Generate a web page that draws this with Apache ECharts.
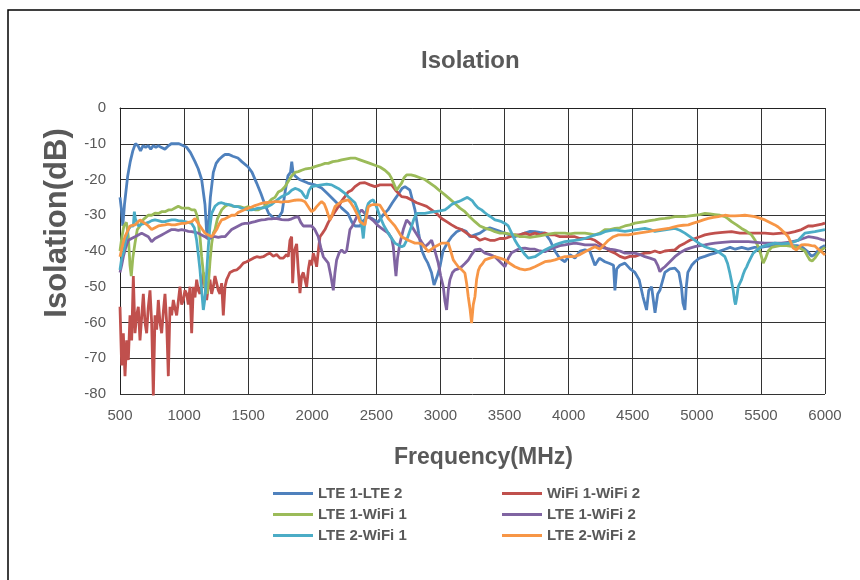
<!DOCTYPE html>
<html>
<head>
<meta charset="utf-8">
<script src="https://cdn.jsdelivr.net/npm/echarts@6/dist/echarts.min.js"></script>
<style>html,body{margin:0;padding:0;background:#fff}#c{width:860px;height:580px}</style>
</head>
<body>
<div id="c"></div>
<script>
// Data: [frequency MHz, isolation dB]
const lte1Lte2 = [[500,-25],[510,-28],[522,-33],[535,-27],[560,-19],[580,-15],[600,-12],[620,-10],[640,-10.5],[660,-12],[680,-10.5],[700,-11],[720,-10.5],[740,-11.5],[760,-10.5],[780,-11],[800,-10.5],[820,-11],[850,-11.5],[880,-10.5],[900,-10],[930,-10],[960,-10],[990,-10.5],[1020,-11],[1050,-12.5],[1085,-15],[1110,-17],[1137,-20],[1163,-27],[1178,-36],[1190,-33],[1205,-25],[1228,-18],[1250,-15.5],[1270,-14.5],[1300,-13.5],[1320,-13],[1350,-13],[1380,-13.5],[1420,-14],[1450,-15],[1500,-16.5],[1530,-18],[1566,-21],[1600,-24],[1630,-27],[1660,-29.5],[1690,-30.5],[1710,-31],[1740,-30.5],[1765,-29],[1790,-23],[1810,-19],[1830,-18],[1840,-15],[1850,-18],[1865,-19],[1900,-20],[1966,-21],[2020,-21.5],[2073,-22.4],[2120,-24],[2177,-26],[2230,-28],[2278,-29.5],[2310,-32],[2333,-33],[2372,-33],[2400,-31.5],[2434,-30.4],[2470,-31],[2512,-32],[2550,-30],[2590,-28.5],[2625,-26.5],[2658,-24.8],[2700,-22.5],[2723,-22],[2762,-23],[2801,-28.5],[2830,-35],[2853,-39.7],[2880,-42],[2902,-43.4],[2930,-46],[2950,-49.5],[2975,-47],[2996,-44.4],[3020,-40],[3050,-38],[3087,-36],[3126,-34.6],[3165,-34],[3200,-34.5],[3230,-36],[3269,-35.5],[3308,-35],[3347,-34],[3385,-33.5],[3425,-34],[3465,-34.5],[3503,-35],[3540,-35.5],[3581,-36],[3620,-35.5],[3659,-35],[3700,-34.5],[3737,-34.6],[3775,-34.8],[3815,-35],[3855,-37],[3893,-40],[3930,-42],[3971,-43],[4010,-41],[4049,-42],[4090,-40],[4127,-39.7],[4165,-40],[4205,-44],[4240,-42],[4283,-43],[4320,-43.5],[4350,-44],[4361,-51],[4375,-45],[4400,-44],[4439,-43.4],[4480,-45],[4517,-46],[4550,-48],[4580,-52.8],[4608,-56.5],[4625,-51],[4647,-50],[4674,-57.3],[4695,-52],[4712,-51],[4751,-46],[4790,-45],[4829,-44.8],[4860,-46],[4880,-50],[4892,-54.6],[4907,-56.5],[4918,-50],[4930,-46],[4960,-44],[4985,-43],[5020,-42],[5063,-41.5],[5100,-41],[5141,-40.6],[5180,-40],[5220,-39.5],[5260,-39],[5300,-39.5],[5350,-39],[5400,-39.5],[5450,-39],[5500,-39],[5531,-38.8],[5600,-38.5],[5661,-38],[5720,-38.5],[5780,-38.5],[5817,-38.8],[5860,-40],[5895,-41.5],[5920,-41],[5944,-40],[5970,-39],[6000,-38.5]];

const wifi1Wifi2 = [[500,-55.6],[513,-72],[526,-63],[539,-75],[552,-65],[565,-70.5],[578,-58],[591,-65],[604,-47],[617,-63],[630,-58],[643,-55.6],[656,-65],[670,-58],[682,-52],[695,-60],[708,-63],[720,-56],[734,-51],[747,-60],[760,-80.7],[773,-58],[786,-62],[799,-53.7],[812,-60],[825,-63],[838,-57],[851,-52],[864,-60],[877,-75],[890,-55.6],[903,-58],[916,-53.7],[929,-56],[942,-58],[955,-54],[968,-50],[981,-55],[994,-53.7],[1007,-51],[1020,-52],[1033,-55],[1046,-50],[1059,-63],[1072,-50],[1085,-53],[1098,-48],[1111,-51],[1124,-52],[1137,-49],[1150,-46],[1163,-50],[1176,-53.7],[1189,-50],[1202,-48],[1215,-52],[1228,-50],[1241,-47],[1254,-47],[1267,-51],[1280,-52],[1293,-49],[1306,-58],[1319,-50],[1332,-48],[1345,-47],[1358,-46],[1384,-45.5],[1410,-45.3],[1436,-44.5],[1462,-43.4],[1488,-43],[1514,-42.5],[1540,-42],[1566,-41.6],[1592,-41.8],[1618,-41.6],[1644,-41],[1670,-40.6],[1696,-41.5],[1722,-41],[1748,-42],[1774,-42],[1800,-41],[1813,-41.6],[1826,-37],[1839,-36],[1847,-49],[1860,-40],[1878,-38],[1890,-45],[1904,-51.8],[1917,-47],[1930,-46],[1943,-48],[1956,-50],[1970,-45],[1982,-42.5],[1995,-44],[2008,-40.6],[2020,-42],[2034,-44.4],[2047,-40],[2060,-36],[2080,-35],[2099,-34],[2125,-32],[2151,-30.4],[2177,-29],[2203,-27.6],[2230,-26],[2255,-24.8],[2280,-23.5],[2307,-23],[2333,-22],[2372,-21],[2411,-20.9],[2450,-21.5],[2489,-22],[2528,-21.5],[2567,-21.5],[2619,-21.5],[2650,-23],[2697,-24.8],[2736,-25],[2775,-25.7],[2814,-26.5],[2853,-27],[2892,-27.5],[2931,-28.5],[2970,-29.5],[3009,-30.9],[3048,-31.8],[3087,-32.7],[3126,-33.5],[3165,-34],[3204,-35],[3243,-36],[3269,-36],[3308,-37],[3347,-36.5],[3386,-37],[3425,-37],[3464,-36.5],[3503,-36.5],[3542,-36],[3581,-35.5],[3620,-35.5],[3659,-35],[3698,-35.5],[3737,-35],[3776,-35.5],[3815,-35],[3854,-35.5],[3893,-35.5],[3932,-36],[3971,-36],[4010,-36],[4049,-36],[4088,-36.5],[4127,-36.5],[4166,-36.5],[4205,-37],[4244,-38],[4283,-39],[4322,-40],[4361,-40.6],[4400,-41.5],[4439,-42],[4478,-41.5],[4517,-41.5],[4556,-41],[4595,-40.6],[4634,-40.5],[4673,-40],[4712,-40.5],[4751,-40],[4790,-39.8],[4829,-39.7],[4868,-38.5],[4907,-37.8],[4946,-37],[4985,-36.5],[5024,-36],[5063,-35.5],[5102,-35.2],[5141,-35],[5200,-34.8],[5271,-34.6],[5336,-35],[5401,-35],[5466,-35],[5531,-35],[5596,-35.2],[5661,-35],[5713,-35],[5765,-34.6],[5817,-34],[5869,-33],[5908,-33],[5947,-32.7],[5975,-32.5],[6000,-32.2]];

const lte1Wifi1 = [[500,-40],[515,-36],[530,-33],[550,-32],[565,-36],[578,-44],[588,-47],[600,-42],[617,-37.8],[635,-34],[656,-33],[675,-31.5],[695,-30.8],[720,-30],[747,-30],[773,-29.4],[800,-29.5],[825,-29],[851,-29],[878,-28.5],[903,-28.5],[929,-28],[955,-27.5],[981,-28],[1007,-28],[1033,-28],[1059,-28.5],[1085,-28.5],[1100,-30],[1111,-32],[1124,-36],[1137,-41.6],[1150,-46],[1163,-50],[1180,-52],[1192,-48],[1202,-43],[1215,-38],[1228,-35],[1241,-34],[1260,-31],[1293,-28.5],[1320,-27.5],[1345,-27],[1380,-27.5],[1410,-27.5],[1436,-27.6],[1470,-28],[1501,-27.6],[1527,-28],[1553,-28.5],[1580,-28.5],[1605,-28],[1630,-27.5],[1657,-26.5],[1683,-25.5],[1709,-25],[1735,-23.5],[1761,-23],[1787,-22],[1813,-20.5],[1839,-19],[1865,-18],[1891,-17.8],[1917,-17.4],[1950,-17],[1990,-16.8],[2021,-16.4],[2060,-16],[2100,-15.5],[2125,-15.5],[2160,-15],[2200,-14.8],[2229,-14.5],[2270,-14.2],[2300,-14],[2333,-14],[2372,-14.5],[2411,-15],[2450,-15.5],[2489,-16],[2528,-16.5],[2567,-17.4],[2600,-18.5],[2619,-19.7],[2640,-21.5],[2658,-23],[2677,-22],[2697,-21],[2716,-19.5],[2736,-18.7],[2770,-18.7],[2801,-19],[2840,-19.5],[2879,-20],[2918,-21],[2957,-22],[2996,-23.2],[3035,-24.3],[3074,-25.5],[3113,-26.7],[3152,-28],[3191,-29],[3230,-30.5],[3269,-31.8],[3308,-33],[3347,-33.6],[3386,-34],[3425,-34.6],[3464,-35],[3503,-35],[3542,-35.3],[3581,-35.5],[3620,-36],[3659,-36],[3698,-36.2],[3737,-36],[3776,-35.8],[3815,-35.5],[3854,-35.2],[3893,-35],[3932,-35],[3971,-35],[4010,-35.2],[4049,-35],[4088,-35],[4127,-35],[4166,-35.2],[4205,-35.5],[4244,-35],[4283,-34],[4322,-34],[4361,-33.7],[4400,-33.5],[4439,-33],[4478,-32.7],[4517,-32.2],[4556,-32],[4595,-31.8],[4634,-31.5],[4673,-31.3],[4712,-31],[4751,-30.9],[4790,-30.7],[4829,-30.4],[4868,-30.4],[4907,-30.4],[4946,-30.2],[4985,-30],[5024,-29.8],[5063,-29.5],[5102,-29.6],[5141,-29.8],[5180,-30],[5219,-30.4],[5245,-31],[5271,-31.8],[5310,-32.7],[5349,-33.7],[5388,-34.5],[5427,-35.5],[5455,-37],[5479,-38.8],[5500,-41],[5518,-43.4],[5537,-42],[5557,-40],[5583,-39],[5609,-38.8],[5648,-38.5],[5687,-38.4],[5726,-38.6],[5765,-38.8],[5804,-39.2],[5843,-40],[5865,-41.5],[5882,-42.5],[5900,-42.8],[5921,-42],[5950,-40.5],[5973,-39.7],[6000,-39]];

const lte1Wifi2 = [[500,-46],[513,-44],[526,-41.6],[545,-39],[565,-37],[590,-36.5],[617,-36],[643,-35.5],[669,-35],[695,-35.5],[721,-36],[747,-37.4],[773,-36.5],[799,-36],[825,-35.5],[851,-35],[877,-34.5],[903,-34],[929,-34],[955,-34.2],[981,-34],[1007,-34.2],[1033,-34.5],[1059,-34.6],[1085,-34.8],[1111,-35],[1137,-35.5],[1163,-36],[1182,-36.5],[1202,-36.5],[1221,-36],[1241,-36],[1267,-36.2],[1293,-36],[1319,-36],[1345,-35],[1371,-34],[1397,-33.5],[1423,-33],[1449,-32.5],[1475,-32.3],[1501,-32.3],[1527,-32],[1553,-31.8],[1579,-31.5],[1605,-31.3],[1631,-31.2],[1657,-31],[1683,-31],[1709,-30.9],[1735,-31],[1761,-31.2],[1787,-31.3],[1813,-31.3],[1839,-31],[1865,-30.6],[1891,-30.4],[1910,-32],[1930,-33],[1960,-33],[1995,-33],[2020,-34],[2047,-36],[2066,-39],[2086,-41.6],[2105,-42.5],[2125,-43.4],[2145,-47],[2164,-51],[2177,-46],[2190,-42.5],[2210,-40.5],[2229,-39.7],[2250,-40.5],[2268,-40],[2281,-37],[2294,-34],[2313,-33],[2333,-31.5],[2360,-29.5],[2385,-28.5],[2410,-29.5],[2437,-30.4],[2476,-31.5],[2515,-33],[2554,-34],[2593,-35],[2620,-36.5],[2632,-38.8],[2645,-44],[2653,-47],[2665,-42],[2684,-37.8],[2710,-34],[2736,-31.3],[2755,-32],[2775,-33],[2800,-34.5],[2827,-36],[2853,-37.5],[2879,-38.8],[2905,-38],[2931,-37],[2957,-40],[2983,-43.4],[3002,-47],[3022,-50],[3035,-54],[3048,-56.5],[3061,-51],[3074,-48],[3094,-46],[3113,-45.3],[3139,-45],[3165,-44.4],[3191,-43.5],[3217,-42.5],[3243,-41],[3269,-39.7],[3308,-39.5],[3347,-40.6],[3386,-41],[3425,-41.6],[3464,-43],[3503,-44.4],[3530,-42],[3555,-40.5],[3581,-40],[3607,-39.5],[3633,-39.3],[3659,-39.2],[3698,-39.5],[3737,-39.5],[3776,-40],[3815,-40.2],[3854,-39.5],[3893,-39],[3932,-38.5],[3971,-38.3],[4010,-38],[4049,-37.8],[4088,-38],[4127,-38.3],[4166,-38.3],[4205,-38.3],[4244,-38.8],[4283,-39.2],[4322,-39.5],[4361,-39.7],[4400,-40],[4439,-40.6],[4478,-40.6],[4517,-40.6],[4556,-41],[4595,-41.6],[4634,-42],[4673,-42.5],[4695,-44],[4712,-45.8],[4730,-45],[4751,-44.4],[4790,-43],[4829,-41.6],[4868,-40.5],[4907,-39.7],[4946,-39.2],[4985,-38.8],[5024,-38.5],[5063,-38.3],[5102,-38],[5141,-37.8],[5200,-37.6],[5271,-37.4],[5336,-37.4],[5401,-37.4],[5466,-37.6],[5531,-37.8],[5596,-37.8],[5661,-37.8],[5726,-37.5],[5791,-37],[5830,-36.5],[5869,-36],[5908,-36.2],[5947,-36.5],[5975,-36.8],[6000,-37]];

const lte2Wifi1 = [[500,-45.3],[513,-42],[526,-40.6],[545,-37],[565,-34],[585,-33],[604,-33],[612,-29],[620,-31],[643,-33],[669,-32.5],[695,-32.3],[721,-32],[747,-31.5],[773,-31.3],[799,-31.5],[825,-31.8],[851,-31.8],[877,-31.5],[903,-31.3],[929,-31.3],[955,-31.5],[981,-31.6],[1007,-31.8],[1033,-32],[1059,-32.3],[1080,-33.5],[1098,-37],[1111,-41],[1124,-45.3],[1137,-51],[1150,-56.5],[1160,-54],[1168,-51],[1178,-45],[1189,-38.8],[1202,-33],[1215,-29.5],[1241,-27.5],[1267,-26.7],[1293,-26.5],[1319,-26.8],[1345,-27],[1371,-27.2],[1397,-27.6],[1423,-27.6],[1449,-28],[1475,-28.3],[1501,-28.5],[1527,-28.5],[1553,-28.3],[1579,-28],[1605,-28],[1631,-27.8],[1657,-27.5],[1683,-27],[1709,-26.2],[1735,-25.5],[1761,-24.8],[1787,-24.3],[1813,-23.9],[1839,-23],[1865,-22.5],[1891,-22.8],[1917,-23.4],[1936,-24.5],[1956,-25.3],[1975,-23],[1995,-22],[2034,-21.7],[2073,-21.5],[2112,-21.3],[2151,-21.5],[2177,-22],[2203,-22.5],[2229,-23.2],[2255,-23.9],[2281,-24.8],[2307,-25.7],[2333,-26.5],[2355,-28.5],[2372,-30.4],[2390,-34],[2398,-36.5],[2410,-32],[2425,-28],[2437,-26.7],[2456,-26],[2476,-25.7],[2500,-27.5],[2528,-30.4],[2560,-33],[2593,-35],[2620,-36.5],[2645,-37.8],[2671,-38.3],[2697,-38.8],[2716,-38.5],[2736,-37],[2755,-35],[2775,-33],[2794,-31],[2814,-29.5],[2846,-29.5],[2879,-29.5],[2918,-29.2],[2957,-29],[2996,-28.8],[3035,-28.5],[3061,-27.8],[3087,-27],[3113,-26.5],[3139,-26.2],[3165,-25.8],[3191,-25.3],[3210,-25],[3230,-25.5],[3250,-26],[3269,-27],[3295,-28],[3321,-28.5],[3347,-29.3],[3373,-30],[3399,-30.6],[3425,-31.3],[3451,-31.5],[3477,-31.8],[3503,-32.3],[3529,-33],[3555,-35],[3581,-37],[3607,-38.5],[3633,-39.7],[3659,-41],[3685,-42],[3711,-41.8],[3737,-41.6],[3776,-40.7],[3815,-39.7],[3854,-39],[3893,-38.3],[3932,-37.8],[3971,-37.4],[4010,-37.2],[4049,-37],[4088,-36.8],[4127,-36.5],[4166,-36],[4205,-35.5],[4244,-35.2],[4283,-34.6],[4322,-34.3],[4361,-34.1],[4400,-34.3],[4439,-34.5],[4478,-34.3],[4517,-34.1],[4556,-33.9],[4595,-33.7],[4634,-34],[4673,-34.5],[4712,-34.3],[4751,-34.1],[4790,-33.9],[4829,-33.7],[4868,-34.2],[4907,-35],[4946,-36],[4985,-37],[5024,-38],[5063,-38.8],[5102,-39.3],[5141,-39.7],[5180,-40.5],[5219,-41.6],[5240,-43.5],[5258,-46.2],[5271,-48.5],[5284,-51],[5295,-54],[5302,-55],[5312,-53],[5323,-50],[5336,-49],[5349,-48],[5362,-46.5],[5375,-45.3],[5388,-44.5],[5401,-43.4],[5420,-42],[5440,-40.6],[5470,-39.7],[5505,-38.8],[5557,-38.2],[5609,-37.8],[5661,-38],[5713,-37.8],[5752,-37.5],[5791,-37],[5817,-36],[5843,-35],[5882,-34.8],[5921,-34.6],[5960,-34.3],[6000,-34]];

const lte2Wifi2 = [[500,-41.6],[513,-39.5],[526,-37.5],[539,-36],[558,-34.5],[578,-33],[598,-32.8],[617,-32.7],[636,-32],[656,-31.3],[675,-31.8],[695,-32.3],[721,-33],[747,-34],[773,-33.5],[799,-33],[825,-32.8],[851,-32.7],[877,-32.5],[903,-32.7],[929,-32.7],[955,-32.5],[981,-32.3],[1007,-32.3],[1033,-32],[1059,-31.8],[1085,-30.9],[1105,-32],[1124,-33],[1143,-34],[1163,-35],[1189,-35.5],[1215,-36],[1235,-35],[1254,-34],[1273,-32.5],[1293,-31.3],[1319,-31],[1345,-30.5],[1371,-30],[1397,-30],[1423,-29.2],[1449,-28.8],[1475,-28.4],[1501,-28],[1527,-27.7],[1553,-27.3],[1579,-27],[1605,-26.7],[1631,-26.5],[1657,-26.4],[1683,-26.3],[1709,-26.2],[1735,-26.2],[1761,-26.3],[1787,-26.2],[1813,-26.2],[1839,-26],[1865,-25.8],[1891,-25.7],[1917,-25.8],[1943,-26.2],[1956,-26.7],[1975,-28],[1995,-29],[2015,-28.5],[2034,-27.6],[2054,-26.8],[2073,-26.2],[2093,-26.8],[2112,-28.5],[2125,-30],[2138,-31.3],[2158,-29.5],[2177,-27.6],[2203,-26.8],[2229,-26.2],[2255,-25.9],[2281,-25.7],[2300,-26.5],[2320,-27.6],[2340,-29],[2359,-30.4],[2372,-31.8],[2392,-32.3],[2411,-32.7],[2424,-30],[2437,-27.6],[2456,-27.2],[2476,-27],[2500,-27],[2528,-27.2],[2560,-29],[2593,-30.9],[2620,-32],[2645,-33],[2671,-34.5],[2697,-36],[2723,-36.5],[2749,-37],[2775,-37.4],[2801,-37.8],[2827,-37.8],[2853,-38],[2879,-39],[2905,-40.2],[2931,-39.5],[2957,-38.8],[2983,-38.3],[3009,-37.8],[3035,-37.8],[3061,-37.8],[3080,-40],[3100,-42.5],[3120,-43.5],[3139,-44.4],[3165,-45.2],[3191,-46.2],[3204,-49],[3217,-52.8],[3230,-56],[3243,-60.2],[3256,-55],[3269,-52.8],[3282,-48],[3295,-45.5],[3308,-44.4],[3328,-43.5],[3347,-42.5],[3386,-42],[3425,-41.6],[3464,-42],[3503,-42.5],[3542,-43.5],[3581,-44.4],[3620,-45],[3659,-45.3],[3698,-45],[3737,-44.4],[3776,-43.7],[3815,-43],[3854,-42.8],[3893,-42.5],[3932,-42],[3971,-41.6],[4010,-41.6],[4049,-41.5],[4088,-41],[4127,-40.2],[4166,-39.5],[4205,-38.8],[4244,-39.5],[4270,-38.5],[4310,-37],[4349,-36],[4388,-35.5],[4427,-35.5],[4466,-35.5],[4505,-35.2],[4544,-35],[4583,-34.8],[4622,-34.6],[4661,-34.3],[4700,-34.1],[4739,-33.9],[4778,-33.7],[4817,-33.3],[4856,-33],[4895,-32.8],[4934,-32.7],[4973,-32.2],[5012,-31.8],[5051,-31.3],[5090,-30.9],[5128,-30.6],[5167,-30.4],[5219,-30],[5258,-30.2],[5297,-30.2],[5336,-30.1],[5375,-30],[5414,-30.2],[5453,-30.4],[5492,-30.8],[5531,-31.3],[5570,-32],[5609,-32.7],[5635,-33.3],[5661,-34.1],[5687,-35],[5713,-36],[5732,-37.5],[5752,-39.2],[5778,-39.7],[5800,-38.8],[5817,-38.3],[5843,-38.2],[5869,-38.3],[5895,-38.5],[5921,-38.6],[5947,-39.5],[5973,-40.2],[6000,-41.1]];

const seriesNames = ['LTE 1-LTE 2','WiFi 1-WiFi 2','LTE 1-WiFi 1','LTE 1-WiFi 2','LTE 2-WiFi 1','LTE 2-WiFi 2'];
const seriesData = [lte1Lte2, wifi1Wifi2, lte1Wifi1, lte1Wifi2, lte2Wifi1, lte2Wifi2];
const seriesColors = ['#4F81BD','#C0504D','#9BBB59','#8064A2','#4BACC6','#F79646'];

const FONT = "'Liberation Sans', Arial, sans-serif";
const TXT = '#595959';
const chart = echarts.init(document.getElementById('c'), null, {renderer: 'canvas'});
const legendCommon = {
  orient: 'vertical', icon: 'rect', itemWidth: 40, itemHeight: 3, itemGap: 6,
  textStyle: {fontFamily: FONT, fontSize: 15, fontWeight: 'bold', color: TXT, lineHeight: 15},
  selectedMode: false
};
chart.setOption({
  animation: false,
  backgroundColor: '#fff',
  graphic: [
    {type: 'rect', shape: {x: 8, y: 10, width: 900, height: 700}, style: {fill: 'none', stroke: '#000', lineWidth: 1.5}, silent: true},
    {type: 'text', x: 57, y: 223, rotation: Math.PI / 2, silent: true,
     style: {text: 'Isolation(dB)', fontFamily: FONT, fontSize: 31, fontWeight: 'bold', fill: TXT, align: 'center', verticalAlign: 'middle'}}
  ],
  title: {text: 'Isolation', left: 416, top: 44, textStyle: {fontFamily: FONT, fontSize: 24, fontWeight: 'bold', color: TXT}},
  legend: [
    Object.assign({}, legendCommon, {left: 268, top: 481, data: [seriesNames[0], seriesNames[2], seriesNames[4]]}),
    Object.assign({}, legendCommon, {left: 497, top: 481, data: [seriesNames[1], seriesNames[3], seriesNames[5]]})
  ],
  grid: {left: 120, right: 35, top: 108, bottom: 186, containLabel: false},
  xAxis: {
    type: 'value', min: 500, max: 6000, interval: 500,
    name: 'Frequency(MHz)', nameLocation: 'middle', nameGap: 52,
    nameTextStyle: {fontFamily: FONT, fontSize: 23, fontWeight: 'bold', color: TXT, padding: [0, 0, 0, 22]},
    axisLine: {show: true, lineStyle: {color: '#222', width: 1}},
    axisTick: {show: false},
    axisLabel: {fontFamily: FONT, fontSize: 15, color: TXT, margin: 14, formatter: v => String(v)},
    splitLine: {show: true, lineStyle: {color: '#333', width: 1}}
  },
  yAxis: {
    type: 'value', min: -80, max: 0, interval: 10,
    axisLine: {show: true, lineStyle: {color: '#222', width: 1}},
    axisTick: {show: false},
    axisLabel: {fontFamily: FONT, fontSize: 15, color: TXT, margin: 14, formatter: v => String(v)},
    splitLine: {show: true, lineStyle: {color: '#333', width: 1}}
  },
  series: seriesNames.map((n, i) => ({
    name: n, type: 'line', data: seriesData[i], symbol: 'none', showSymbol: false,
    lineStyle: {color: seriesColors[i], width: 2.8}, itemStyle: {color: seriesColors[i]},
    z: 2 + i
  }))
});
</script>
</body>
</html>
